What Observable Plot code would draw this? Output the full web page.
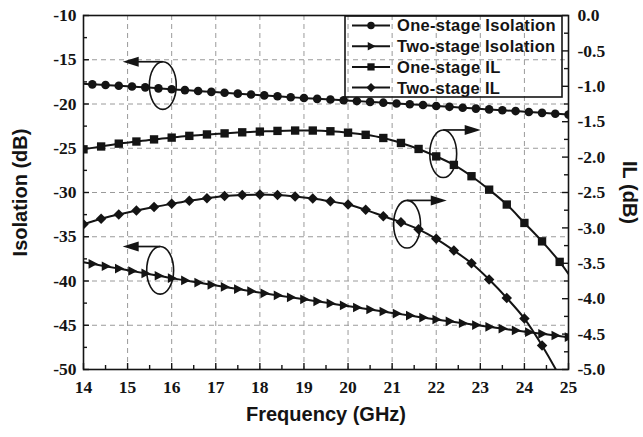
<!DOCTYPE html>
<html>
<head>
<meta charset="utf-8">
<script src="https://cdn.jsdelivr.net/npm/d3@7"></script>
<script src="https://cdn.jsdelivr.net/npm/@observablehq/plot@0.6"></script>
<style>
  html, body { margin: 0; padding: 0; background: #fff; }
  #chart svg { display: block; }
  #chart .axis-title {
    font-family: "Liberation Sans", Arial, sans-serif;
    font-weight: bold;
    font-size: 20px;
  }
</style>
</head>
<body>
<div id="chart"></div>
<script>
// ---- Series names (legend order) ----
const seriesNames = ["One-stage Isolation", "Two-stage Isolation", "One-stage IL", "Two-stage IL"];

// ---- Isolation curves (left axis, dB); 14.0 GHz is the line start, markers from 14.2 GHz ----
const isoFreq = [14.0, 14.2, 14.5, 14.8, 15.1, 15.4, 15.7, 16.0, 16.3, 16.6, 16.9, 17.2, 17.5, 17.8,
                 18.1, 18.4, 18.7, 19.0, 19.3, 19.6, 19.9, 20.2, 20.5, 20.8, 21.1, 21.4, 21.7, 22.0,
                 22.3, 22.6, 22.9, 23.2, 23.5, 23.8, 24.1, 24.4, 24.7, 25.0];
const oneIso = [-17.72, -17.78, -17.85, -17.93, -18.02, -18.12, -18.23, -18.33, -18.43, -18.53, -18.63,
                -18.73, -18.83, -18.93, -19.03, -19.13, -19.23, -19.33, -19.42, -19.50, -19.58, -19.67,
                -19.76, -19.85, -19.94, -20.03, -20.12, -20.22, -20.32, -20.42, -20.52, -20.61, -20.70,
                -20.80, -20.90, -21.00, -21.10, -21.20];
const twoIso = [-37.87, -38.06, -38.33, -38.60, -38.87, -39.14, -39.41, -39.68, -39.93, -40.18, -40.43,
                -40.67, -40.91, -41.15, -41.39, -41.62, -41.85, -42.07, -42.30, -42.53, -42.76, -42.99,
                -43.22, -43.45, -43.68, -43.91, -44.13, -44.35, -44.56, -44.77, -44.98, -45.18, -45.38,
                -45.58, -45.78, -45.97, -46.16, -46.35];

// ---- Insertion-loss curves (right axis, dB); markers up to 24.8 GHz, line runs to 25.0 GHz ----
const ilFreq = [14.0, 14.4, 14.8, 15.2, 15.6, 16.0, 16.4, 16.8, 17.2, 17.6, 18.0, 18.4, 18.8, 19.2,
                19.6, 20.0, 20.4, 20.8, 21.2, 21.6, 22.0, 22.4, 22.8, 23.2, 23.6, 24.0, 24.4, 24.8, 25.0];
const oneIL = [-1.89, -1.85, -1.81, -1.78, -1.75, -1.725, -1.70, -1.68, -1.665, -1.65, -1.64, -1.63,
               -1.625, -1.625, -1.635, -1.655, -1.685, -1.73, -1.80, -1.885, -1.99, -2.11, -2.27,
               -2.46, -2.67, -2.93, -3.19, -3.48, -3.65];
const twoIL = [-2.95, -2.87, -2.81, -2.755, -2.705, -2.66, -2.615, -2.58, -2.55, -2.535, -2.53, -2.535,
               -2.555, -2.585, -2.625, -2.67, -2.745, -2.835, -2.92, -3.02, -3.155, -3.32, -3.50,
               -3.73, -3.99, -4.28, -4.66, -5.10, -5.35];

// ---- Ticks ----
const freqTicks = [14, 15, 16, 17, 18, 19, 20, 21, 22, 23, 24, 25];
const freqMinor = [14.5, 15.5, 16.5, 17.5, 18.5, 19.5, 20.5, 21.5, 22.5, 23.5, 24.5];
const isoTicks = [-50, -45, -40, -35, -30, -25, -20, -15, -10];
const isoMinor = [-47.5, -42.5, -37.5, -32.5, -27.5, -22.5, -17.5, -12.5];
const ilTicks = [-5.0, -4.5, -4.0, -3.5, -3.0, -2.5, -2.0, -1.5, -1.0, -0.5, 0.0];
const ilMinor = [-4.75, -4.25, -3.75, -3.25, -2.75, -2.25, -1.75, -1.25, -0.75, -0.25];

// ---- Callouts: ellipse centre (GHz, axis units), which axis, arrow tip frequency ----
const callouts = [
  {cx: 15.81, cy: -17.97, axis: "left",  tip: 14.90},
  {cx: 15.75, cy: -38.85, axis: "left",  tip: 14.90},
  {cx: 22.17, cy: -1.96,  axis: "right", tip: 23.02},
  {cx: 21.35, cy: -2.955, axis: "right", tip: 22.25}
];

// The IL axis (0 … -5 dB) shares the isolation axis range (-10 … -50 dB)
const ilToIso = v => -10 + v * 8;
const isoToIl = v => (v + 10) / 8;

// ---- Marker shapes ----
const symTriRight = {draw(ctx, size) {
  const r = Math.sqrt(size / Math.PI);
  ctx.moveTo(1.3 * r, 0); ctx.lineTo(-0.9 * r, -1.15 * r); ctx.lineTo(-0.9 * r, 1.15 * r); ctx.closePath();
}};
const symSquare = {draw(ctx, size) {
  const h = 0.95 * Math.sqrt(size / Math.PI);
  ctx.rect(-h, -h, 2 * h, 2 * h);
}};
const symDiamond = {draw(ctx, size) {
  const d = 1.25 * Math.sqrt(size / Math.PI);
  ctx.moveTo(0, -d); ctx.lineTo(d, 0); ctx.lineTo(0, d); ctx.lineTo(-d, 0); ctx.closePath();
}};
const symbols = [d3.symbolCircle, symTriRight, symSquare, symDiamond];
const radii = [4.3, 4.2, 4.4, 4.2];

const series = [
  {name: seriesNames[0], freq: isoFreq, values: oneIso, il: false, marked: f => f > 14.0},
  {name: seriesNames[1], freq: isoFreq, values: twoIso, il: false, marked: f => f > 14.0},
  {name: seriesNames[2], freq: ilFreq,  values: oneIL,  il: true,  marked: f => f < 25.0},
  {name: seriesNames[3], freq: ilFreq,  values: twoIL,  il: true,  marked: f => f < 25.0}
];

const rows = series.flatMap((s, k) => s.freq.map((f, i) => ({
  name: s.name, k, f, v: s.values[i], y: s.il ? ilToIso(s.values[i]) : s.values[i], marked: s.marked(f)
})));

const W = 643, H = 437;
const M = {top: 15, right: 75, bottom: 68, left: 83};
const FW = W - M.left - M.right, FH = H - M.top - M.bottom;

const ink = "#141414";
const serif = "Liberation Serif";
const gridStyle = {stroke: "#9a9a9a", strokeOpacity: 1, strokeWidth: 1, strokeDasharray: "5,4"};
const titleText = {className: "axis-title", fill: ink, textAnchor: "middle", lineAnchor: "middle"};
const tickText = {fontFamily: serif, fontWeight: "bold", fontSize: 17.5, fill: ink};

const chart = Plot.plot({
  width: W, height: H,
  marginTop: M.top, marginRight: M.right, marginBottom: M.bottom, marginLeft: M.left,
  style: {color: ink, background: "#fff"},
  x: {domain: [14, 25]},
  y: {domain: [-50, -10]},
  marks: [
    // dashed grid
    Plot.ruleX(freqTicks.slice(1, -1), {x: d => d, ...gridStyle}),
    Plot.ruleY(isoTicks.slice(1, -1), {y: d => d, ...gridStyle}),

    // inward ticks
    Plot.tickX(freqTicks, {x: d => d, insetTop: FH - 6, stroke: ink, strokeWidth: 1.4}),
    Plot.tickX(freqMinor, {x: d => d, insetTop: FH - 4, stroke: ink, strokeWidth: 1.4}),
    Plot.tickY(isoTicks, {y: d => d, insetRight: FW - 6, stroke: ink, strokeWidth: 1.4}),
    Plot.tickY(isoMinor, {y: d => d, insetRight: FW - 4, stroke: ink, strokeWidth: 1.4}),
    Plot.tickY(ilTicks.map(ilToIso), {y: d => d, insetLeft: FW - 6, stroke: ink, strokeWidth: 1.4}),
    Plot.tickY(ilMinor.map(ilToIso), {y: d => d, insetLeft: FW - 4, stroke: ink, strokeWidth: 1.4}),

    // curves
    Plot.line(rows, {x: "f", y: "y", z: "name", stroke: ink, strokeWidth: 2, curve: "catmull-rom", clip: true}),
    ...series.map((s, k) => Plot.dot(rows.filter(d => d.k === k && d.marked), {
      x: "f", y: "y", symbol: symbols[k], r: radii[k], fill: ink, stroke: "none", clip: true
    })),

    // tick labels
    Plot.axisX(freqTicks, {anchor: "bottom", tickSize: 0, tickPadding: 11, tickFormat: d => String(d), label: null, ...tickText}),
    Plot.axisY(isoTicks, {anchor: "left", tickSize: 0, tickPadding: 7, tickFormat: d => String(d), label: null, ...tickText}),
    Plot.axisY(ilTicks.map(ilToIso), {anchor: "right", tickSize: 0, tickPadding: 9,
      tickFormat: d => isoToIl(d).toFixed(1), label: null, ...tickText}),

    // axis titles
    Plot.text(["Frequency (GHz)"], {frameAnchor: "bottom", dy: 45, text: d => d, ...titleText}),
    Plot.text(["Isolation (dB)"], {frameAnchor: "left", dx: -63, rotate: -90, text: d => d, ...titleText}),
    Plot.text(["IL (dB)"], {frameAnchor: "right", dx: 61, rotate: 90, text: d => d, ...titleText}),

    Plot.frame({stroke: ink, strokeWidth: 1.6})
  ]
});

const svg = d3.select(chart);

// Tick labels: bold serif numerals
svg.selectAll("g[aria-label$='tick label'] text")
  .style("font-family", "'Liberation Serif', serif")
  .style("font-weight", "bold")
  .style("font-size", "17.5px");

// ---- Callouts and legend, placed with the plot's own scales ----
const sx = chart.scale("x").apply, sy = chart.scale("y").apply;
const ann = svg.append("g").attr("fill", "none").attr("stroke", ink);
const ellRx = 0.305, ellRy = 2.69; // GHz, isolation dB
for (const c of callouts) {
  const cy = c.axis === "right" ? ilToIso(c.cy) : c.cy;
  const px = sx(c.cx), py = sy(cy);
  const rx = sx(c.cx + ellRx) - px, ry = sy(cy - ellRy) - py;
  ann.append("ellipse").attr("cx", px).attr("cy", py).attr("rx", rx).attr("ry", ry).attr("stroke-width", 1.6);
  const top = py - ry, tx = sx(c.tip), dir = Math.sign(tx - px), head = 16, hw = 5;
  ann.append("line").attr("x1", px).attr("y1", top).attr("x2", tx - dir * head * 0.8).attr("y2", top).attr("stroke-width", 1.7);
  ann.append("path").attr("d", `M${tx},${top}L${tx - dir * head},${top - hw}L${tx - dir * head},${top + hw}Z`)
    .attr("fill", ink).attr("stroke", "none");
}

const lg = svg.append("g").attr("transform", `translate(345,16)`);
lg.append("rect").attr("x", 0).attr("y", 0).attr("width", 217).attr("height", 81)
  .attr("fill", "none").attr("stroke", ink).attr("stroke-width", 1.6);
seriesNames.forEach((name, k) => {
  const y = 9.5 + k * 20.7;
  lg.append("line").attr("x1", 7).attr("x2", 45).attr("y1", y).attr("y2", y).attr("stroke", ink).attr("stroke-width", 2);
  lg.append("path").attr("transform", `translate(26,${y})`)
    .attr("d", d3.symbol(symbols[k], radii[k] * radii[k] * Math.PI * 0.75)()).attr("fill", ink);
  lg.append("text").attr("x", 52).attr("y", y).attr("dy", "0.36em").text(name)
    .attr("text-anchor", "start")
    .style("font-family", "'Liberation Sans', Arial, sans-serif").style("font-weight", "bold")
    .style("font-size", "16.5px").style("letter-spacing", "0.3px").attr("fill", ink);
});

document.getElementById("chart").appendChild(chart);
</script>
</body>
</html>
